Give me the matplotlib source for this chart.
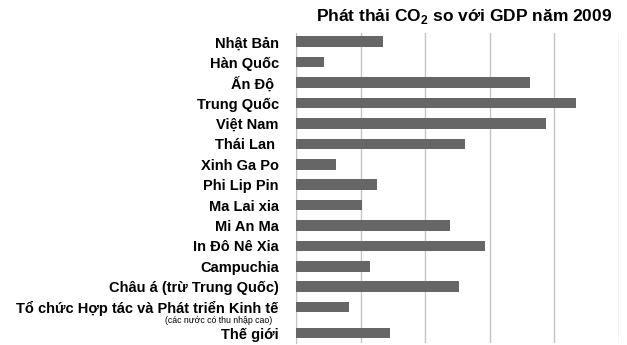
import numpy as np
import matplotlib.pyplot as plt
import matplotlib.transforms as mtransforms

plt.rcParams['font.family'] = ['Liberation Sans', 'DejaVu Sans']
plt.rcParams['mathtext.fontset'] = 'custom'
plt.rcParams['mathtext.rm'] = 'Liberation Sans:bold'
plt.rcParams['mathtext.bf'] = 'Liberation Sans:bold'

# du lieu doc tu hinh
countries = ["Nhật Bản", "Hàn Quốc", "Ấn Độ ", "Trung Quốc", "Việt Nam", "Thái Lan ",
             "Xinh Ga Po", "Phi Lip Pin", "Ma Lai xia", "Mi An Ma", "In Đô Nê Xia",
             "Campuchia", "Châu á (trừ Trung Quốc)",
             "Tổ chức Hợp tác và Phát triển Kinh tế", "Thế giới"]
values = [1.35, 0.43, 3.62, 4.33, 3.87, 2.61, 0.62, 1.26, 1.02, 2.39, 2.92,
          1.14, 2.53, 0.82, 1.45]
oecd_note = "(các nước có thu nhập cao)"

ypos = np.arange(len(countries), dtype=float)
ypos[-1] += 0.27   # khoang cach them cho dong cuoi

fig = plt.figure(figsize=(6.27, 3.45), dpi=100)
ax = fig.add_axes([296/627, 2/345, 323/627, 310/345])

ax.barh(ypos, values, height=0.52, color='#666666', zorder=3)
ax.set_xlim(0, 5)
ax.set_ylim(ypos[-1] + 0.49, -0.43)
ax.set_xticks(np.arange(0, 6))
ax.xaxis.grid(True, color='#c4c4c4', linewidth=1.0, zorder=0)
ax.tick_params(axis='x', length=0, labelbottom=False)
ax.tick_params(axis='y', length=0, pad=12.5)
ax.set_yticks(ypos)
ax.set_yticklabels(countries, fontsize=10.5, fontweight='bold')
for s in ['top', 'right', 'bottom']:
    ax.spines[s].set_visible(False)
ax.spines['left'].set_color('#c4c4c4')

trans = mtransforms.blended_transform_factory(ax.transAxes, ax.transData)
ax.text(-0.074, ypos[-2] + 0.68, oecd_note, transform=trans, ha='right', va='center',
        fontsize=6.3)

fig.text(612/627, 1 - 17/345, r"Phát thải CO$_{\mathrm{2}}$ so với GDP năm 2009",
         ha='right', va='center', fontsize=12.5, fontweight='bold')

plt.savefig("out.png", dpi=100)
